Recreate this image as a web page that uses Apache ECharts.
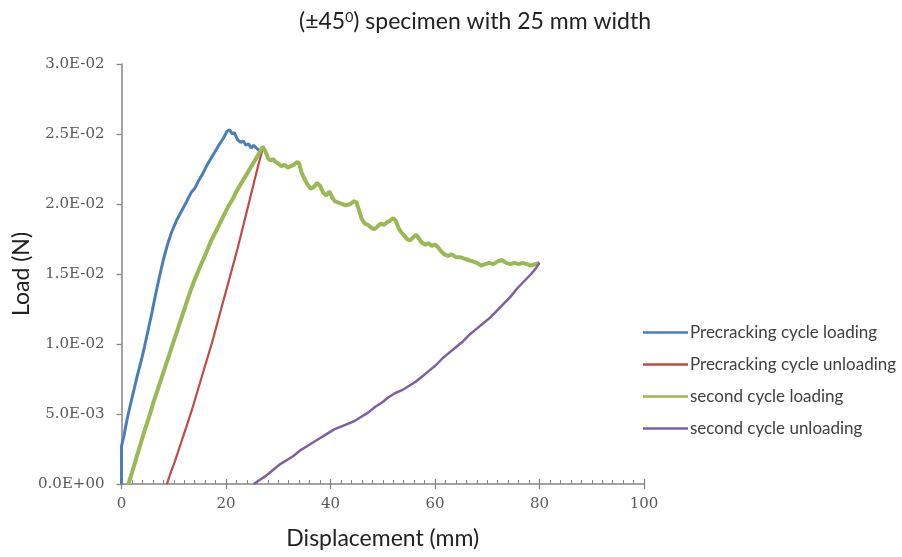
<!DOCTYPE html>
<html><head><meta charset="utf-8">
<script src="https://cdn.jsdelivr.net/npm/echarts@6/dist/echarts.min.js"></script>
<style>html,body{margin:0;padding:0;background:#fff}#c{width:902px;height:557px}</style>
</head><body><div id="c"></div>
<script>
const seriesNames = ['Precracking cycle loading','Precracking cycle unloading','second cycle loading','second cycle unloading'];
const yTicks = [0, 0.005, 0.01, 0.015, 0.02, 0.025, 0.03];
const xTicks = [0, 20, 40, 60, 80, 100];

const precrackLoading = [[0,0],[0,0.0027],[0.5,0.0035],[1,0.0045],[1.6,0.0055],[2.3,0.0066],[3,0.0077],[3.7,0.0087],[4.4,0.0098],[5.1,0.0110],[5.8,0.0122],[6.5,0.0135],[7.2,0.0147],[8,0.0160],[8.8,0.0171],[9.6,0.0180],[10.5,0.0188],[11.5,0.0195],[12.5,0.0202],[13.3,0.0208],[14,0.0211],[14.8,0.0217],[15.6,0.0222],[16.4,0.0228],[17.2,0.0233],[18,0.0238],[18.8,0.0243],[19.5,0.0247],[20.2,0.0252],[20.7,0.0253],[21.2,0.0250],[21.6,0.0251],[22.2,0.0246],[22.8,0.0244],[23.3,0.0245],[23.8,0.0242],[24.3,0.0243],[24.8,0.0240],[25.3,0.0242],[25.8,0.0240],[26.4,0.0238],[27,0.0239]];

const precrackUnloading = [[27,0.0239],[26.2,0.0228],[25.4,0.0216],[24.6,0.0204],[23.8,0.0192],[23,0.0180],[22.2,0.0168],[21.4,0.0157],[20.6,0.0146],[19.8,0.0135],[19,0.0124],[18.2,0.0113],[17.4,0.0102],[16.6,0.0092],[15.8,0.0082],[15,0.0072],[14.2,0.0062],[13.4,0.0052],[12.6,0.0043],[11.8,0.0034],[11,0.0025],[10.2,0.0016],[9.4,0.0008],[8.7,0]];

const secondLoading = [[1.3,0],[2,0.0008],[2.8,0.0018],[3.6,0.0028],[4.4,0.0038],[5.2,0.0047],[6,0.0057],[6.8,0.0066],[7.6,0.0075],[8.4,0.0084],[9.2,0.0093],[10,0.0102],[10.8,0.0111],[11.6,0.0120],[12.4,0.0129],[13.2,0.0138],[14,0.0146],[14.8,0.0153],[15.6,0.0160],[16.4,0.0167],[17.2,0.0174],[18,0.0180],[18.8,0.0186],[19.6,0.0192],[20.4,0.0198],[21.2,0.0203],[22,0.0209],[22.8,0.0214],[23.6,0.0219],[24.4,0.0224],[25.2,0.0229],[26,0.0234],[26.6,0.0238],[27,0.0241],
[27.5,0.0238],[28,0.0233],[28.5,0.0231],[29,0.0232],[29.5,0.0230],[30,0.0229],[30.6,0.0227],[31.2,0.0228],[31.8,0.0226],[32.4,0.0227],[33,0.0228],[33.6,0.0230],[34,0.0229],[34.5,0.0222],[35,0.0218],[35.6,0.0214],[36.2,0.0211],[36.8,0.0212],[37.4,0.0215],[38,0.0213],[38.6,0.0208],[39.2,0.0206],[39.8,0.0209],[40.3,0.0205],[40.8,0.0202],[41.5,0.0201],[42.2,0.0200],[43,0.0199],[43.8,0.0200],[44.5,0.0202],[45,0.0201],[45.5,0.0195],[46,0.0189],[46.6,0.0186],[47.2,0.0185],[47.8,0.0183],[48.4,0.0182],[49,0.0184],[49.6,0.0186],[50.2,0.0185],[50.8,0.0187],[51.4,0.0188],[52,0.0190],[52.5,0.0188],[53,0.0183],[53.5,0.0180],[54,0.0178],[54.6,0.0175],[55.2,0.0174],[55.8,0.0176],[56.4,0.0178],[57,0.0175],[57.6,0.0172],[58.2,0.0171],[58.8,0.0172],[59.4,0.0170],[60,0.0171],[60.6,0.0169],[61.2,0.0166],[61.8,0.0164],[62.5,0.0163],[63.2,0.0164],[64,0.0162],[64.8,0.0162],[65.6,0.0161],[66.4,0.0160],[67.2,0.0159],[68,0.0158],[68.8,0.0156],[69.6,0.0157],[70.4,0.0158],[71.2,0.0157],[72,0.0159],[72.8,0.0160],[73.6,0.0158],[74.4,0.0157],[75.2,0.0158],[76,0.0157],[76.8,0.0158],[77.6,0.0157],[78.4,0.0156],[79.2,0.0157],[80,0.0158]];

const secondUnloading = [[25.3,0],[26.5,0.0003],[27.7,0.0006],[29,0.0010],[30.3,0.0014],[31.6,0.0017],[32.9,0.0020],[34.2,0.0024],[35.5,0.0027],[36.8,0.0030],[38.1,0.0033],[39.4,0.0036],[40.7,0.0039],[42,0.0041],[43.3,0.0043],[44.6,0.0045],[45.9,0.0048],[47.2,0.0051],[48.5,0.0055],[49.8,0.0058],[51.1,0.0062],[52.4,0.0065],[53.7,0.0067],[55,0.0070],[56.3,0.0073],[57.6,0.0077],[58.9,0.0081],[60.2,0.0085],[61.5,0.0090],[62.8,0.0094],[64.1,0.0098],[65.4,0.0102],[66.7,0.0107],[68,0.0111],[69.3,0.0115],[70.6,0.0119],[71.9,0.0124],[73.2,0.0129],[74.5,0.0134],[75.8,0.0140],[77.1,0.0145],[78.4,0.0150],[79.3,0.0154],[80,0.0158]];

const colors = ['#4A7EBB', '#BE4B48', '#98B954', '#7D60A0'];
const widths = [3, 2.2, 4, 2.5];
const datasets = [precrackLoading, precrackUnloading, secondLoading, secondUnloading];

function sci(v) {
  if (Math.abs(v) < 1e-12) return '0.0E+00';
  const e = Math.floor(Math.log10(Math.abs(v)) + 1e-9);
  const m = v / Math.pow(10, e);
  const sign = e < 0 ? '-' : '+';
  const ea = Math.abs(e);
  return m.toFixed(1) + 'E' + sign + (ea < 10 ? '0' + ea : ea);
}

const gray = '#868686';
const labelFont = 'DejaVu Serif';
const textFont = 'Lato';

const chart = echarts.init(document.getElementById('c'));
chart.setOption({
  animation: false,
  backgroundColor: '#fff',
  title: {
    text: '(±45{sup|0}) specimen with 25 mm width',
    left: 470, top: 5, textAlign: 'center',
    textStyle: {
      fontFamily: textFont, fontSize: 23, fontWeight: 'normal', color: '#222',
      rich: { sup: { fontFamily: textFont, fontSize: 14, verticalAlign: 'top', padding: [0,0,10,0], color: '#222' } }
    }
  },
  grid: { left: 121.5, right: 258, top: 64, bottom: 73, containLabel: false, outerBoundsMode: 'none' },
  legend: {
    orient: 'vertical', left: 638, top: 319, itemGap: 15,
    itemWidth: 45, itemHeight: 2.5, icon: 'rect',
    textStyle: { fontFamily: textFont, fontSize: 17, color: '#404040', padding: [0,0,0,-3] },
    data: seriesNames
  },
  xAxis: [{
    type: 'value', min: xTicks[0], max: xTicks[xTicks.length - 1], interval: 20,
    name: 'Displacement (mm)', nameLocation: 'middle', nameGap: 43, nameMoveOverlap: false,
    nameTextStyle: { fontFamily: textFont, fontSize: 23, color: '#222' },
    axisLine: { show: true, onZero: false, lineStyle: { color: gray, width: 1.5 } },
    axisTick: { show: true, inside: true, length: 5, lineStyle: { color: gray, width: 1.3 } },
    minorTick: { show: true, splitNumber: 10, length: 4, lineStyle: { color: gray, width: 1 } },
    axisLabel: { margin: 13, fontFamily: labelFont, fontSize: 15, color: '#595959' },
    splitLine: { show: false }
  }, {
    type: 'value', position: 'bottom', min: xTicks[0], max: xTicks[xTicks.length - 1], interval: 20,
    axisLine: { show: false },
    axisTick: { show: true, inside: false, length: 5, lineStyle: { color: gray, width: 1.3 } },
    axisLabel: { show: false }, splitLine: { show: false }
  }],
  yAxis: {
    type: 'value', min: yTicks[0], max: yTicks[yTicks.length - 1], interval: 0.005,
    name: 'Load (N)', nameLocation: 'middle', nameGap: 88, nameMoveOverlap: false,
    nameTextStyle: { fontFamily: textFont, fontSize: 23, color: '#222' },
    axisLine: { show: true, lineStyle: { color: gray, width: 1.5 } },
    axisTick: { show: true, inside: false, length: 5, lineStyle: { color: gray, width: 1.3 } },
    axisLabel: { margin: 17, fontFamily: labelFont, fontSize: 15, color: '#595959', formatter: sci },
    splitLine: { show: false }
  },
  series: seriesNames.map((n, i) => ({
    name: n, type: 'line', data: datasets[i], symbol: 'none', smooth: false,
    xAxisIndex: 0,
    lineStyle: { color: colors[i], width: widths[i] },
    itemStyle: { color: colors[i] }
  }))
});
</script></body></html>
